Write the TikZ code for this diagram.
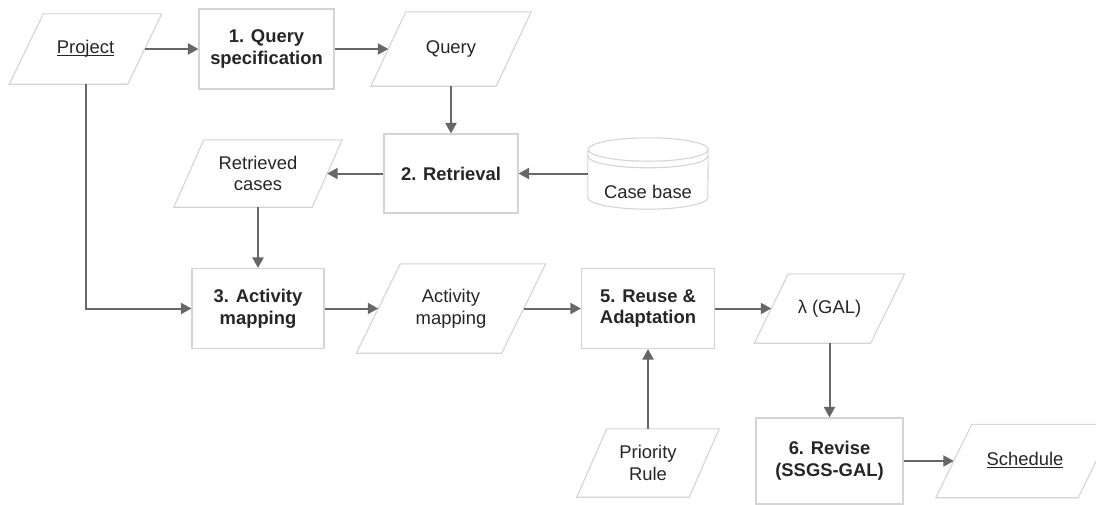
\documentclass[tikz,border=0pt]{standalone}
\usepackage{fontspec}
\setmainfont{Liberation Sans}
\usetikzlibrary{arrows.meta}
\definecolor{bordc}{HTML}{D4D4D4}
\definecolor{arrc}{HTML}{676767}
\definecolor{txtc}{HTML}{262626}
\newcommand\paraoutline[2]{\draw[bord] ([xshift=#2pt]#1.north west) -- ([xshift=#2pt]#1.north east) -- ([xshift=-#2pt]#1.south east) -- ([xshift=-#2pt]#1.south west) -- cycle;}
\begin{document}
\begin{tikzpicture}[x=1pt,y=-1pt,
  font=\fontsize{18.4}{21.7}\selectfont, text=txtc,
  bord/.style={draw=bordc, line width=1.1pt},
  sbox/.style={bord, fill=white, align=center, inner sep=0pt, font=\fontsize{18.4}{21.7}\selectfont\bfseries},
  pbox/.style={draw=none, align=center, inner sep=0pt},
  arr/.style={draw=arrc, line width=2pt, -{Triangle[length=10.5pt,width=11pt]}}
]
\fill[white] (0,0) rectangle (1096,504);
\useasboundingbox (0,0) rectangle (1096,504);

% nodes
\node[pbox, minimum width=118, minimum height=70] (project) at (85.5,49) {\underline{\smash{Project}}\vphantom{Query}};
\node[sbox, minimum width=135, minimum height=80] (spec) at (266.5,49) {1. Query\\specification};
\node[pbox, minimum width=125, minimum height=74] (query) at (451,49) {Query};
\node[sbox, minimum width=134, minimum height=79] (retr) at (451,173.5) {2. Retrieval};
\node[pbox, minimum width=138, minimum height=67] (cases) at (258,173.5) {Retrieved\\cases};
\node[draw=none, minimum width=120, minimum height=71, inner sep=0pt] (cb) at (648,173.5) {};
\node[sbox, minimum width=132, minimum height=80] (map) at (258,308.5) {3. Activity\\mapping};
\node[pbox, minimum width=145, minimum height=89] (amap) at (451,308.5) {Activity\\mapping};
\node[sbox, minimum width=133, minimum height=80] (reuse) at (648,308.5) {5. Reuse \&\\Adaptation};
\node[pbox, minimum width=116, minimum height=69] (lambda) at (829.5,308.5) {λ (GAL)};
\node[pbox, minimum width=112, minimum height=68] (prio) at (648,463) {Priority\\Rule};
\node[sbox, minimum width=147, minimum height=86] (revise) at (829.5,461) {6. Revise\\(SSGS-GAL)};
\node[pbox, minimum width=142, minimum height=73] (sched) at (1025,461) {\underline{\smash{Schedule}}\vphantom{Query}};

% parallelogram outlines
\paraoutline{project}{17}
\paraoutline{query}{17.5}
\paraoutline{cases}{15}
\paraoutline{amap}{22}
\paraoutline{lambda}{17}
\paraoutline{prio}{15}
\paraoutline{sched}{18}

% cylinder (case base)
\draw[bord, fill=white] ([yshift=-11.7pt]cb.north west) -- ([yshift=11.7pt]cb.south west)
  arc[start angle=180, end angle=360, x radius=60pt, y radius=11.7pt]
  -- ([yshift=-11.7pt]cb.north east)
  arc[start angle=0, end angle=180, x radius=60pt, y radius=11.7pt]
  arc[start angle=180, end angle=360, x radius=60pt, y radius=11.7pt];
\draw[bord] ([yshift=-18.3pt]cb.north west) arc[start angle=180, end angle=360, x radius=60pt, y radius=11.7pt];
\node[inner sep=0pt] (cblabel) at ([yshift=-18.5pt]cb.center) {Case base};

% connectors
\draw[arr] (project) -- (spec);
\draw[arr] (spec) -- (query);
\draw[arr] (query) -- (retr);
\draw[arr] (cb) -- (retr);
\draw[arr] (retr) -- (cases);
\draw[arr] (cases) -- (map);
\draw[arr] (project) |- (map);
\draw[arr] (map) -- (amap);
\draw[arr] (amap) -- (reuse);
\draw[arr] (reuse) -- (lambda);
\draw[arr] (prio) -- (reuse);
\draw[arr] (lambda) -- (revise);
\draw[arr] (revise) -- (sched);
\end{tikzpicture}
\end{document}
